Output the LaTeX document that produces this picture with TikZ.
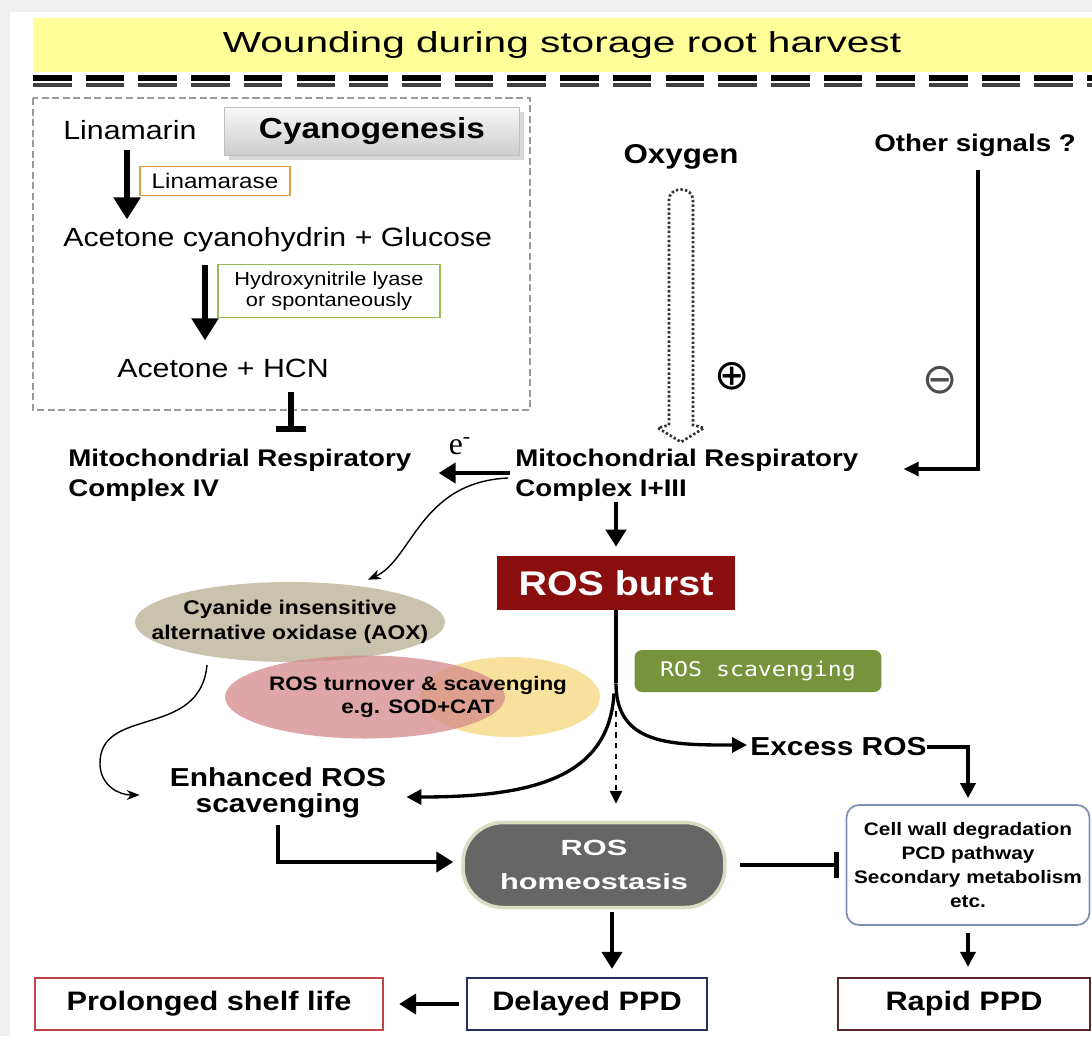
\documentclass[tikz,border=0pt]{standalone}
\usepackage{fontspec}
\setmainfont{Liberation Sans}[FakeStretch=1.15]
\newfontfamily\widefont{Liberation Sans}[FakeStretch=1.4]
\newfontfamily\scavfont{DejaVu Sans Mono}[FakeStretch=1.15]
\newfontfamily\symbfont{DejaVu Sans}
\newfontfamily\eletter{Liberation Serif}
\usetikzlibrary{arrows.meta, positioning, shapes.geometric, calc, shadows}

\definecolor{frameGray}{HTML}{EFEFEF}
\definecolor{bannerYellow}{HTML}{FFFF99}
\definecolor{boxGray}{HTML}{9A9A9A}
\definecolor{enzOrange}{HTML}{E59A4A}
\definecolor{enzGreen}{HTML}{9BBB59}
\definecolor{burstRed}{HTML}{8B0E0E}
\definecolor{aoxBeige}{HTML}{C9C3AE}
\definecolor{turnPink}{HTML}{D4898A}
\definecolor{scavYellow}{HTML}{F8E19C}
\definecolor{scavGreen}{HTML}{77933C}
\definecolor{homeoGray}{HTML}{666666}
\definecolor{homeoRim}{HTML}{DCDCC4}
\definecolor{cellBlue}{HTML}{8090B4}
\definecolor{delayNavy}{HTML}{23305E}
\definecolor{shelfRed}{HTML}{C0454A}
\definecolor{rapidBrown}{HTML}{5A2828}

\newcommand{\fsz}[2]{\fontsize{#1}{#2}\selectfont}

\begin{document}
\begin{tikzpicture}[x=0.02cm, y=-0.02cm,
    chem/.style={anchor=west, inner sep=0, font=\fsz{15}{17}},
    mito/.style={anchor=west, inner sep=0, align=left, font=\bfseries\fsz{13.7}{17}},
    boldlbl/.style={inner sep=0, align=center, font=\bfseries\fsz{14.8}{15}},
    enzbox/.style={draw, line width=1.1pt, inner sep=0, align=center},
    pbox/.style={draw, line width=1.3pt, minimum height=1.04cm, font=\bfseries\fsz{15.2}{17}},
    bigarrow/.style={line width=3pt, -{Triangle[length=0.44cm, width=0.52cm]}},
    fat/.style={line width=2.4pt, -{Triangle[length=0.34cm, width=0.4cm]}},
    midarrow/.style={line width=1.9pt, -{Triangle[length=0.3cm, width=0.3cm]}},
    curvearrow/.style={line width=0.8pt, -{Stealth[length=0.26cm, width=0.2cm]}},
    inhib/.style={line width=3pt, -{Bar[width=0.6cm, line width=3pt]}}
  ]
  \useasboundingbox (0,0) rectangle (1092,1036);
  \fill[frameGray] (0,0) rectangle (1092,1036);
  \fill[white] (10,12) rectangle (1092,1036);

  % Banner
  \fill[bannerYellow] (33,18) rectangle (1092,72);
  \node[font=\widefont\fsz{16.5}{18}] (title) at (562,45) {Wounding during storage root harvest};
  \draw[line width=3pt, dash pattern=on 22pt off 8pt] (33,78) -- (1092,78);
  \draw[line width=1.8pt, black!75, dash pattern=on 22pt off 8pt] (33,85) -- (1092,85);

  % Cyanogenesis
  \draw[boxGray, line width=1pt, dash pattern=on 4pt off 2pt] (33,98) rectangle (530,410);
  \node[draw=gray!50, top color=gray!5, bottom color=gray!40, drop shadow={opacity=0.3},
        minimum width=5.9cm, minimum height=0.96cm, font=\bfseries\fsz{16.5}{18}] (cyano) at (372,131) {Cyanogenesis};
  \node[chem] (lin) at (63,130) {Linamarin};
  \node[chem] (acg) at (63,240) {Acetone cyanohydrin + Glucose};
  \node[chem] (hcn) at (117,368) {Acetone + HCN};
  \node[enzbox, draw=enzOrange, minimum width=3cm, minimum height=0.58cm, font=\fsz{12}{13}] (lase) at (215,181) {Linamarase};
  \node[enzbox, draw=enzGreen, minimum width=4.44cm, minimum height=1.06cm, font=\fsz{10.8}{12}] (hnl) at (329,291) {Hydroxynitrile lyase\\or spontaneously};
  \draw[bigarrow] ($(lin.south west)+(64,10)$) -- ($(acg.north west)+(64,-8)$);
  \draw[bigarrow] ($(acg.south west)+(142,12)$) -- ($(hcn.north west)+(88,-18)$);

  % Respiratory complexes
  \node[mito] (c4) at (68,475) {Mitochondrial Respiratory\\Complex IV};
  \node[mito] (c13) at (515,475) {Mitochondrial Respiratory\\Complex I+III};
  \node[font=\eletter\fsz{18}{18}] (el) at (460,446) {e\textsuperscript{-}};
  \draw[inhib] ($(hcn.south)+(68,14)$) -- ($(hcn.south)+(68,54)$);
  \draw[fat] ($(c13.west)+(-5,-2)$) -- ($(c4.east)+(27,-2)$);

  % Signals
  \node[font=\bfseries\fsz{15.5}{17}] (oxy) at (681,157) {Oxygen};
  \draw[line width=1.5pt, black!80, dash pattern=on 1.4pt off 1.2pt]
    (669,425) -- (669,200) .. controls (669,186) and (693,186) .. (693,200)
    -- (693,425) -- (704,428) -- (681,442) -- (658,428) -- cycle;
  \node[font=\symbfont\fsz{24}{24}] (plus) at (732,376) {⊕};
  \node[font=\symbfont\fsz{24}{24}, black!70] (minus) at (940,380) {⊖};
  \node[font=\bfseries\fsz{13.7}{16}] (other) at (975,145) {Other signals ?};
  \draw[line width=1.8pt, -{Triangle[length=0.3cm, width=0.28cm]}]
    ($(other.south)+(3,8)$) |- ($(c13.east)+(45,-6)$);

  % ROS burst
  \node[fill=burstRed, text=white, minimum width=4.76cm, minimum height=1.08cm,
        font=\bfseries\fsz{19.5}{20}] (burst) at (616,583) {ROS burst};
  \draw[fat] (burst.north |- c13.south) -- ($(burst.north)+(0,-9)$);

  % Scavenging ellipses
  \node[ellipse, fill=aoxBeige, minimum width=6.2cm, minimum height=1.6cm] (aox) at (290,622) {};
  \node[ellipse, fill=scavYellow, minimum width=3.6cm, minimum height=1.6cm] (yel) at (510,697) {};
  \node[ellipse, fill=turnPink, fill opacity=0.75, minimum width=5.6cm, minimum height=1.66cm] (pink) at (365,697) {};
  \node[align=center, inner sep=0, font=\bfseries\fsz{11.3}{14}] (aoxtext) at (aox) {Cyanide insensitive\\alternative oxidase (AOX)};
  \node[align=center, inner sep=0, font=\bfseries\fsz{11.1}{13}] (turn) at (418,697) {ROS turnover \& scavenging\\e.g. SOD+CAT};
  \draw[curvearrow] ($(c13.west)+(-7,3)$) .. controls (420,482) and (412,560) .. ($(aox.north)+(78,-2)$);

  \node[boldlbl] (enh) at (278,793) {Enhanced ROS\\scavenging};
  \draw[curvearrow] (207,665) .. controls (200,740) and (98,705) .. (100,765)
    .. controls (101,785) and (118,795) .. ($(enh.west)+(-30,2)$);

  % Branches from the burst
  \node[fill=scavGreen, text=white, rounded corners=0.15cm, minimum width=4.94cm, minimum height=0.84cm,
        font=\scavfont\fsz{11.5}{12}] (scav) at (758,671) {ROS scavenging};
  \node[boldlbl, anchor=west] (excess) at (750,747) {Excess ROS};
  \draw[line width=1.9pt] (burst.south) -- ($(burst.south)+(0,73)$) coordinate (fork);
  \draw[midarrow] (fork) .. controls +(0,62) and +(-75,0) .. ($(excess.west)+(-3,-2)$);
  \draw[midarrow] ($(fork)+(-2,10)$) .. controls +(-5,85) and +(125,0) .. ($(enh.east)+(20,4)$);

  % Homeostasis and outcomes
  \node[fill=homeoGray, draw=homeoRim, line width=2pt, rounded corners=0.8cm, minimum width=5.24cm,
        minimum height=1.7cm, align=center, text=white, font=\widefont\bfseries\fsz{12.5}{19}] (homeo) at (594,865) {ROS\\homeostasis};
  \draw[line width=1.6pt, dashed, -{Triangle[length=0.26cm, width=0.24cm]}]
    ($(fork)+(0,28)$) -- ($(homeo.north -| fork)+(0,-17)$);
  \node[draw=cellBlue, line width=1pt, rounded corners=0.25cm, minimum width=4.86cm, minimum height=2.4cm,
        align=center, font=\bfseries\fsz{10.3}{13.6}] (cell) at (968,865)
        {Cell wall degradation\\PCD pathway\\Secondary metabolism\\etc.};
  \draw[midarrow, shorten >=0.12cm] (excess.east) -| (cell.north);
  \draw[fat, shorten <=0.12cm] (enh.south) |- ($(homeo.west)+(-8,-3)$);
  \draw[line width=2.4pt, -{Bar[width=0.52cm, line width=2.4pt]}, shorten <=0.26cm, shorten >=0.14cm]
    (homeo.east) -- (cell.west |- homeo.east);

  \node[pbox, draw=shelfRed, minimum width=6.96cm] (shelf) at (209,1004) {Prolonged shelf life};
  \node[pbox, draw=delayNavy, minimum width=4.8cm] (delayed) at (587,1004) {Delayed PPD};
  \node[pbox, draw=rapidBrown, minimum width=5.04cm] (rapid) at (964,1004) {Rapid PPD};
  \draw[fat] ($(homeo.south)+(18,3)$) -- ($(delayed.north)+(25,-8)$);
  \draw[fat] ($(delayed.west)+(-7,0)$) -- ($(shelf.east)+(15,0)$);
  \draw[midarrow] ($(cell.south)+(0,7)$) -- ($(rapid.north)+(4,-10)$);
\end{tikzpicture}
\end{document}
